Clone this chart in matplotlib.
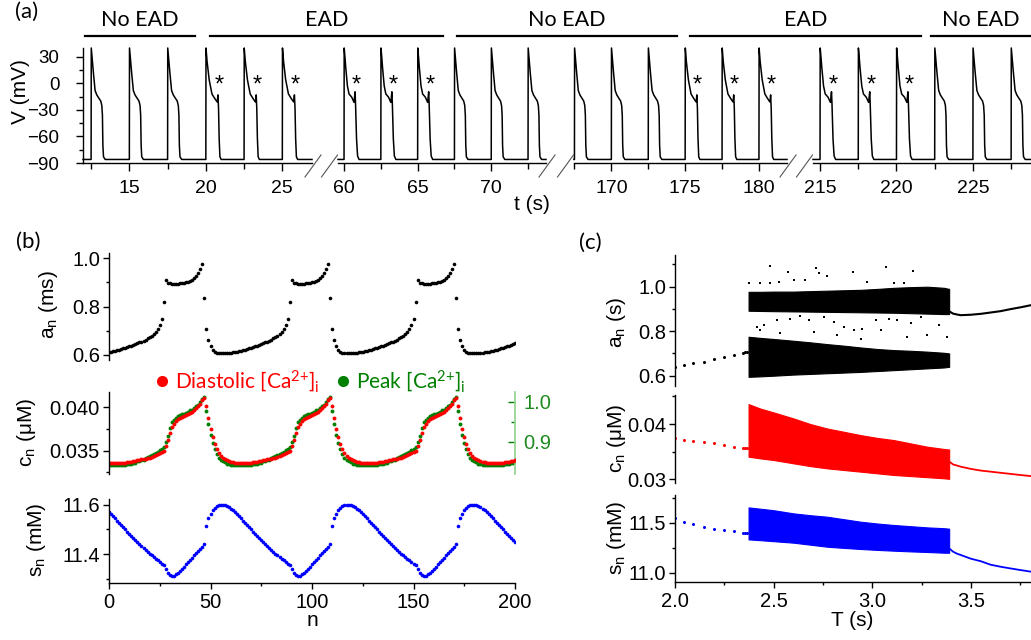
import matplotlib
matplotlib.use("Agg")
import matplotlib.pyplot as plt
from matplotlib.lines import Line2D
from matplotlib.ticker import MultipleLocator, FormatStrFormatter

plt.rcParams['font.family'] = ['Liberation Sans', 'DejaVu Sans']
plt.rcParams['mathtext.default'] = 'regular'
plt.rcParams['axes.linewidth'] = 1.0

W, H = 1031, 640
LABEL_FONT = ['Lato', 'DejaVu Sans']
RED, GREEN, BLUE = '#ff0000', '#008000', '#0000ff'

# ---------------- (a) action potential trains ----------------
rest_v = -86.0
noead_dt = [0, 0.01, 0.15, 0.26, 0.37, 0.48, 0.63, 0.70, 0.74, 0.77, 0.81, 0.92]
noead_v = [-86, 40, 12, -8, -13, -16, -20, -25, -36, -70, -83, -86]
ead1_dt = [0, 0.01, 0.08, 0.22, 0.40, 0.58, 0.70, 0.75, 0.79, 0.83, 0.87, 0.92, 1.00]
ead1_v = [-86, 40, 25, 4, -12, -17, -20, -21, -13, -28, -62, -83, -86]
ead2_dt = [0, 0.01, 0.07, 0.11, 0.23, 0.34, 0.52, 0.68, 0.75, 0.78, 0.85, 0.92, 1.02]
ead2_v = [-86, 40, 28, 19, -3, -12, -15.5, -21.5, -9.5, -22, -63, -82, -86]

seg_tlim = [(11.97, 26.94), (59.59, 73.72), (167.47, 181.9), (214.54, 228.8)]
seg_beats = [[12.5, 15, 17.5, 20, 22.5, 25],
             [60, 62.5, 65, 67.5, 70, 72.5],
             [167.5, 170, 172.5, 175, 177.5, 180],
             [215, 217.5, 220, 222.5, 225, 227.5]]
seg_kinds = [["N", "N", "N", "E1", "E1", "E1"],
             ["E2", "E2", "E2", "N", "N", "N"],
             ["N", "N", "N", "E1", "E1", "E1"],
             ["E2", "E2", "E2", "N", "N", "N"]]
# (first segment, start time, last segment, end time) of each regime bar
regime_labels = ["No EAD", "EAD", "No EAD", "EAD", "No EAD"]
regime_spans = [(0, 12.1, 0, 19.3), (0, 20.3, 1, 66.7), (1, 67.7, 2, 174.45),
                (2, 175.3, 3, 221.6), (3, 222.25, 3, 229.5)]
star_delay = 0.85
star_v = -9.5

# ---------------- (b) beat-to-beat maps over n ----------------
n_beats = list(range(201))
a_n = [
    0.613, 0.614, 0.616, 0.618, 0.620, 0.622, 0.625, 0.628, 0.630, 0.633,
    0.636, 0.639, 0.642, 0.645, 0.648, 0.652, 0.655, 0.659, 0.663, 0.668,
    0.673, 0.679, 0.686, 0.695, 0.706, 0.722, 0.748, 0.821, 0.910, 0.898,
    0.896, 0.895, 0.895, 0.895, 0.895, 0.896, 0.897, 0.898, 0.900, 0.903,
    0.906, 0.911, 0.917, 0.927, 0.940, 0.956, 0.975,
    0.834, 0.708, 0.662, 0.636, 0.620, 0.613, 0.610, 0.608, 0.607, 0.607,
    0.607, 0.608, 0.609, 0.610, 0.611, 0.613, 0.614, 0.616, 0.618, 0.620,
    0.622, 0.625, 0.628, 0.630, 0.633, 0.636, 0.639, 0.642, 0.645, 0.648,
    0.652, 0.655, 0.659, 0.663, 0.668, 0.673, 0.679, 0.686, 0.695, 0.706,
    0.722, 0.748, 0.821, 0.910, 0.898, 0.896, 0.895, 0.895, 0.895, 0.895,
    0.896, 0.897, 0.898, 0.900, 0.903, 0.906, 0.911, 0.917, 0.927, 0.940,
    0.956, 0.975,
    0.834, 0.708, 0.662, 0.636, 0.620, 0.613, 0.610, 0.608, 0.607, 0.607,
    0.607, 0.608, 0.609, 0.610, 0.611, 0.613, 0.614, 0.616, 0.618, 0.620,
    0.622, 0.625, 0.628, 0.630, 0.633, 0.636, 0.639, 0.642, 0.645, 0.648,
    0.652, 0.655, 0.659, 0.663, 0.668, 0.673, 0.679, 0.686, 0.695, 0.706,
    0.722, 0.748, 0.821, 0.910, 0.898, 0.896, 0.895, 0.895, 0.895, 0.895,
    0.896, 0.897, 0.898, 0.900, 0.903, 0.906, 0.911, 0.917, 0.927, 0.940,
    0.956, 0.975,
    0.834, 0.708, 0.662, 0.636, 0.620, 0.613, 0.610, 0.608, 0.607, 0.607,
    0.607, 0.608, 0.609, 0.610, 0.611, 0.613, 0.614, 0.616, 0.618, 0.620,
    0.622, 0.625, 0.628, 0.630, 0.633, 0.636, 0.639, 0.642, 0.645, 0.648,
]
ca_diastolic = [
    0.0336, 0.0336, 0.0336, 0.0336, 0.0336, 0.0336, 0.0336, 0.0336, 0.0336, 0.0337,
    0.0337, 0.0337, 0.0338, 0.0338, 0.0339, 0.0339, 0.0340, 0.0340, 0.0341, 0.0342,
    0.0342, 0.0343, 0.0344, 0.0345, 0.0346, 0.0347, 0.0348, 0.0350, 0.0355, 0.0362,
    0.0370, 0.0377, 0.0381, 0.0384, 0.0386, 0.0388, 0.0389, 0.0390, 0.0391, 0.0392,
    0.0394, 0.0395, 0.0397, 0.0399, 0.0401, 0.0404, 0.0408,
    0.0411, 0.0401, 0.0388, 0.0375, 0.0366, 0.0358, 0.0352, 0.0347, 0.0344, 0.0342,
    0.0340, 0.0339, 0.0338, 0.0337, 0.0337, 0.0336, 0.0336, 0.0336, 0.0336, 0.0336,
    0.0336, 0.0336, 0.0336, 0.0336, 0.0337, 0.0337, 0.0337, 0.0338, 0.0338, 0.0339,
    0.0339, 0.0340, 0.0340, 0.0341, 0.0342, 0.0342, 0.0343, 0.0344, 0.0345, 0.0346,
    0.0347, 0.0348, 0.0350, 0.0355, 0.0362, 0.0370, 0.0377, 0.0381, 0.0384, 0.0386,
    0.0388, 0.0389, 0.0390, 0.0391, 0.0392, 0.0394, 0.0395, 0.0397, 0.0399, 0.0401,
    0.0404, 0.0408,
    0.0411, 0.0401, 0.0388, 0.0375, 0.0366, 0.0358, 0.0352, 0.0347, 0.0344, 0.0342,
    0.0340, 0.0339, 0.0338, 0.0337, 0.0337, 0.0336, 0.0336, 0.0336, 0.0336, 0.0336,
    0.0336, 0.0336, 0.0336, 0.0336, 0.0337, 0.0337, 0.0337, 0.0338, 0.0338, 0.0339,
    0.0339, 0.0340, 0.0340, 0.0341, 0.0342, 0.0342, 0.0343, 0.0344, 0.0345, 0.0346,
    0.0347, 0.0348, 0.0350, 0.0355, 0.0362, 0.0370, 0.0377, 0.0381, 0.0384, 0.0386,
    0.0388, 0.0389, 0.0390, 0.0391, 0.0392, 0.0394, 0.0395, 0.0397, 0.0399, 0.0401,
    0.0404, 0.0408,
    0.0411, 0.0401, 0.0388, 0.0375, 0.0366, 0.0358, 0.0352, 0.0347, 0.0344, 0.0342,
    0.0340, 0.0339, 0.0338, 0.0337, 0.0337, 0.0336, 0.0336, 0.0336, 0.0336, 0.0336,
    0.0336, 0.0336, 0.0336, 0.0336, 0.0337, 0.0337, 0.0337, 0.0338, 0.0338, 0.0339,
]
ca_peak = [
    0.841, 0.841, 0.841, 0.841, 0.841, 0.841, 0.841, 0.841, 0.841, 0.844,
    0.844, 0.844, 0.847, 0.847, 0.851, 0.851, 0.855, 0.855, 0.858, 0.862,
    0.863, 0.866, 0.869, 0.872, 0.875, 0.878, 0.881, 0.886, 0.898, 0.915,
    0.933, 0.948, 0.955, 0.960, 0.963, 0.967, 0.969, 0.970, 0.972, 0.974,
    0.978, 0.980, 0.984, 0.988, 0.992, 0.998, 1.006,
    1.011, 0.976, 0.943, 0.917, 0.897, 0.882, 0.870, 0.860, 0.855, 0.851,
    0.848, 0.845, 0.843, 0.842, 0.842, 0.841, 0.841, 0.841, 0.841, 0.841,
    0.841, 0.841, 0.841, 0.841, 0.844, 0.844, 0.844, 0.847, 0.847, 0.851,
    0.851, 0.855, 0.855, 0.858, 0.862, 0.863, 0.866, 0.869, 0.872, 0.875,
    0.878, 0.881, 0.886, 0.898, 0.915, 0.933, 0.948, 0.955, 0.960, 0.963,
    0.967, 0.969, 0.970, 0.972, 0.974, 0.978, 0.980, 0.984, 0.988, 0.992,
    0.998, 1.006,
    1.011, 0.976, 0.943, 0.917, 0.897, 0.882, 0.870, 0.860, 0.855, 0.851,
    0.848, 0.845, 0.843, 0.842, 0.842, 0.841, 0.841, 0.841, 0.841, 0.841,
    0.841, 0.841, 0.841, 0.841, 0.844, 0.844, 0.844, 0.847, 0.847, 0.851,
    0.851, 0.855, 0.855, 0.858, 0.862, 0.863, 0.866, 0.869, 0.872, 0.875,
    0.878, 0.881, 0.886, 0.898, 0.915, 0.933, 0.948, 0.955, 0.960, 0.963,
    0.967, 0.969, 0.970, 0.972, 0.974, 0.978, 0.980, 0.984, 0.988, 0.992,
    0.998, 1.006,
    1.011, 0.976, 0.943, 0.917, 0.897, 0.882, 0.870, 0.860, 0.855, 0.851,
    0.848, 0.845, 0.843, 0.842, 0.842, 0.841, 0.841, 0.841, 0.841, 0.841,
    0.841, 0.841, 0.841, 0.841, 0.844, 0.844, 0.844, 0.847, 0.847, 0.851,
]
s_n = [
    11.572, 11.563, 11.554, 11.545, 11.536, 11.527, 11.518, 11.509, 11.500, 11.491,
    11.482, 11.473, 11.465, 11.457, 11.449, 11.441, 11.433, 11.425, 11.417, 11.409,
    11.402, 11.395, 11.388, 11.381, 11.374, 11.367, 11.361, 11.354, 11.337, 11.322,
    11.313, 11.310, 11.312, 11.317, 11.324, 11.332, 11.340, 11.349, 11.358, 11.367,
    11.376, 11.385, 11.394, 11.403, 11.412, 11.420, 11.430,
    11.440, 11.515, 11.545, 11.565, 11.578, 11.588, 11.594, 11.598, 11.600, 11.600,
    11.598, 11.595, 11.590, 11.585, 11.579, 11.572, 11.563, 11.554, 11.545, 11.536,
    11.527, 11.518, 11.509, 11.500, 11.491, 11.482, 11.473, 11.465, 11.457, 11.449,
    11.441, 11.433, 11.425, 11.417, 11.409, 11.402, 11.395, 11.388, 11.381, 11.374,
    11.367, 11.361, 11.354, 11.337, 11.322, 11.313, 11.310, 11.312, 11.317, 11.324,
    11.332, 11.340, 11.349, 11.358, 11.367, 11.376, 11.385, 11.394, 11.403, 11.412,
    11.420, 11.430,
    11.440, 11.515, 11.545, 11.565, 11.578, 11.588, 11.594, 11.598, 11.600, 11.600,
    11.598, 11.595, 11.590, 11.585, 11.579, 11.572, 11.563, 11.554, 11.545, 11.536,
    11.527, 11.518, 11.509, 11.500, 11.491, 11.482, 11.473, 11.465, 11.457, 11.449,
    11.441, 11.433, 11.425, 11.417, 11.409, 11.402, 11.395, 11.388, 11.381, 11.374,
    11.367, 11.361, 11.354, 11.337, 11.322, 11.313, 11.310, 11.312, 11.317, 11.324,
    11.332, 11.340, 11.349, 11.358, 11.367, 11.376, 11.385, 11.394, 11.403, 11.412,
    11.420, 11.430,
    11.440, 11.515, 11.545, 11.565, 11.578, 11.588, 11.594, 11.598, 11.600, 11.600,
    11.598, 11.595, 11.590, 11.585, 11.579, 11.572, 11.563, 11.554, 11.545, 11.536,
    11.527, 11.518, 11.509, 11.500, 11.491, 11.482, 11.473, 11.465, 11.457, 11.449,
]

# ---------------- (c) bifurcation diagrams over pacing period T ----------------
T_pre = [2.0, 2.046, 2.093, 2.147, 2.198, 2.246, 2.297, 2.344, 2.356, 2.366]
a_pre = [0.640, 0.647, 0.655, 0.662, 0.674, 0.685, 0.692, 0.703, 0.705, 0.707]
c_pre = [0.0375, 0.0372, 0.0370, 0.0367, 0.0365, 0.0362, 0.0359, 0.0357, 0.0356, 0.0356]
s_pre = [11.543, 11.510, 11.487, 11.460, 11.440, 11.427, 11.413, 11.400, 11.400, 11.399]

T_band = [2.373, 2.432, 2.5, 2.602, 2.686, 2.771, 2.856, 2.941, 3.025, 3.110,
          3.195, 3.280, 3.364, 3.39]
a_upper_top = [0.977, 0.977, 0.978, 0.978, 0.980, 0.982, 0.984, 0.986, 0.990, 0.995,
               0.998, 1.000, 0.995, 0.990]
a_upper_bot = [0.892, 0.891, 0.890, 0.889, 0.888, 0.887, 0.886, 0.885, 0.884, 0.883,
               0.881, 0.879, 0.877, 0.877]
a_lower_top = [0.775, 0.770, 0.765, 0.757, 0.750, 0.742, 0.735, 0.727, 0.720, 0.715,
               0.712, 0.708, 0.703, 0.700]
a_lower_bot = [0.595, 0.597, 0.600, 0.605, 0.608, 0.611, 0.614, 0.617, 0.621, 0.625,
               0.629, 0.633, 0.637, 0.640]
c_band_top = [0.0436, 0.0428, 0.0421, 0.0410, 0.0400, 0.0392, 0.0386, 0.0380, 0.0375,
              0.0371, 0.0365, 0.0359, 0.0355, 0.0354]
c_band_bot = [0.0341, 0.0338, 0.0335, 0.0329, 0.0324, 0.0320, 0.0317, 0.0314, 0.0311,
              0.0308, 0.0306, 0.0304, 0.0302, 0.0301]
s_band_top = [11.653, 11.640, 11.625, 11.593, 11.575, 11.560, 11.535, 11.510, 11.492,
              11.477, 11.465, 11.453, 11.445, 11.440]
s_band_bot = [11.333, 11.325, 11.315, 11.300, 11.280, 11.260, 11.248, 11.237, 11.228,
              11.220, 11.213, 11.207, 11.200, 11.200]

T_scatter = [2.373, 2.429, 2.480, 2.483, 2.525, 2.571, 2.602, 2.661, 2.717, 2.729,
             2.771, 2.902, 2.975, 3.068, 3.110, 3.161, 3.208,
             2.415, 2.432, 2.449, 2.517, 2.534, 2.581, 2.636, 2.678, 2.703, 2.754,
             2.808, 2.822, 2.856, 2.907, 2.941, 2.949, 3.017, 3.042, 3.085, 3.127,
             3.178, 3.195, 3.246, 3.280, 3.339, 3.381]
a_scatter = [1.018, 1.015, 1.093, 1.015, 1.020, 1.068, 1.030, 1.030, 1.083, 1.060,
             1.048, 1.068, 1.023, 1.087, 1.018, 1.018, 1.072,
             0.820, 0.805, 0.827, 0.850, 0.790, 0.857, 0.868, 0.850, 0.797, 0.862,
             0.842, 0.782, 0.820, 0.805, 0.767, 0.812, 0.850, 0.805, 0.853, 0.850,
             0.775, 0.835, 0.865, 0.782, 0.830, 0.775]

T_post = [3.395, 3.41, 3.43, 3.449, 3.5, 3.55, 3.6, 3.65, 3.7, 3.75, 3.805]
a_post = [0.887, 0.879, 0.875, 0.872, 0.874, 0.878, 0.884, 0.890, 0.899, 0.907, 0.917]
c_post = [0.0331, 0.0327, 0.0325, 0.0323, 0.0319, 0.0316, 0.0314, 0.0312, 0.0310,
          0.0308, 0.0306]
s_post = [11.235, 11.210, 11.190, 11.177, 11.140, 11.115, 11.080, 11.060, 11.043,
          11.027, 11.010]

# =====================================================================
fig = plt.figure(figsize=(W / 100, H / 100), dpi=100)


def px_axes(x0, y0, x1, y1):
    """Axes from a pixel box (y measured from the top edge)."""
    ax = fig.add_axes([x0 / W, 1 - y1 / H, (x1 - x0) / W, (y1 - y0) / H])
    ax.patch.set_alpha(0)
    return ax


def fig_xy(x, y):
    return x / W, 1 - y / H


def style(ax, bottom, labelsize=14.5):
    for side in ('top', 'right'):
        ax.spines[side].set_visible(False)
    ax.spines['bottom'].set_visible(bottom)
    ax.tick_params(which='both', direction='out', width=1)
    ax.tick_params(which='major', length=4.5, labelsize=labelsize, pad=2)
    ax.tick_params(which='minor', length=2.5)
    ax.tick_params(axis='x', which='both', bottom=bottom, labelbottom=bottom)


# ---------------- panel (a) ----------------
templates = {"N": (noead_dt, noead_v), "E1": (ead1_dt, ead1_v), "E2": (ead2_dt, ead2_v)}
seg_px = [(83, 312), (338, 546), (574, 787), (813, 1031)]
A_TOP, A_BOT = 48, 163
seg_axes = []
for i, ((x0, x1), (t0, t1), beats, kinds) in enumerate(
        zip(seg_px, seg_tlim, seg_beats, seg_kinds)):
    ax = px_axes(x0, A_TOP, x1, A_BOT)
    t, v = [t0], [rest_v]
    for b, k in zip(beats, kinds):
        dts, vs = templates[k]
        t += [b + d for d in dts]
        v += list(vs)
    t.append(t1)
    v.append(rest_v)
    ax.plot(t, v, color='black', lw=1.1, clip_on=False, solid_joinstyle='round')
    for b, k in zip(beats, kinds):
        if k != "N":
            ax.text(b + star_delay, star_v, '*', ha='center', va='baseline',
                    fontsize=17)
    ax.set_xlim(t0, t1)
    ax.set_ylim(-90, 40)
    style(ax, True, labelsize=14)
    ax.xaxis.set_major_locator(MultipleLocator(5))
    ax.xaxis.set_minor_locator(MultipleLocator(2.5))
    ax.tick_params(axis='x', which='major', length=6, pad=6)
    ax.tick_params(axis='x', which='minor', length=4)
    if i == 0:
        ax.yaxis.set_major_locator(MultipleLocator(30))
        ax.yaxis.set_minor_locator(MultipleLocator(15))
        ax.tick_params(axis='y', which='major', length=5, pad=12, labelsize=13.5)
        ax.tick_params(axis='y', which='minor', length=3)
    else:
        ax.spines['left'].set_visible(False)
        ax.tick_params(axis='y', which='both', left=False, labelleft=False)
    seg_axes.append(ax)

fig.canvas.draw()
to_fig = fig.transFigure.inverted()


def seg_fx(seg, t):
    disp = seg_axes[seg].transData.transform((t, 0))
    return to_fig.transform(disp)[0]


bar_y = 1 - 36 / H
for label, (s0, ta, s1, tb) in zip(regime_labels, regime_spans):
    xa, xb = seg_fx(s0, ta), min(seg_fx(s1, tb), 1.0)
    fig.add_artist(Line2D([xa, xb], [bar_y, bar_y], color='black', lw=1.6,
                          transform=fig.transFigure))
    fig.text((xa + xb) / 2, 1 - 20 / H, label, ha='center', va='center',
             fontsize=15.5, family=LABEL_FONT)

# broken-axis marks between the segments
for (_, xr), (xl, _) in zip(seg_px[:-1], seg_px[1:]):
    for xm in (xr + 1, xl - 8.5):
        (fa, fb), (ga, gb) = fig_xy(xm - 8, 177), fig_xy(xm + 8, 155)
        fig.add_artist(Line2D([fa, ga], [fb, gb], color='#555555', lw=0.8,
                              transform=fig.transFigure))

fig.text(*fig_xy(21, 92), 'V (mV)', rotation=90, ha='center', va='center', fontsize=15)
fig.text(*fig_xy(532, 204), 't (s)', ha='center', va='center', fontsize=15)
fig.text(*fig_xy(27, 12), '(a)', ha='center', va='center', fontsize=16, family=LABEL_FONT)

# ---------------- panel (b) ----------------
BX0, BX1 = 109, 515
ax_ba = px_axes(BX0, 252.7, BX1, 360)
ax_bc = px_axes(BX0, 391.7, BX1, 474)
ax_bs = px_axes(BX0, 499.3, BX1, 582.7)
ax_bc2 = ax_bc.twinx()
ax_bc2.patch.set_alpha(0)

ax_ba.plot(n_beats, a_n, 'o', color='black', ms=2.6, mew=0)
ax_bc2.plot(n_beats, ca_peak, 'o', color=GREEN, ms=2.8, mew=0)
ax_bc.plot(n_beats, ca_diastolic, 'o', color=RED, ms=2.8, mew=0)
ax_bs.plot(n_beats, s_n, 'o', color=BLUE, ms=2.6, mew=0)
ax_bc.set_zorder(ax_bc2.get_zorder() + 1)

for ax in (ax_ba, ax_bc, ax_bs):
    ax.set_xlim(0, 200)
    style(ax, ax is ax_bs)
ax_ba.set_ylim(0.579, 1.023)
ax_ba.yaxis.set_major_locator(MultipleLocator(0.2))
ax_ba.yaxis.set_minor_locator(MultipleLocator(0.1))
ax_ba.yaxis.set_major_formatter(FormatStrFormatter('%.1f'))
ax_bc.set_ylim(0.03232, 0.0418)
ax_bc.yaxis.set_major_locator(MultipleLocator(0.005))
ax_bc.yaxis.set_minor_locator(MultipleLocator(0.0025))
ax_bc.yaxis.set_major_formatter(FormatStrFormatter('%.3f'))
ax_bs.set_ylim(11.283, 11.623)
ax_bs.yaxis.set_major_locator(MultipleLocator(0.2))
ax_bs.yaxis.set_minor_locator(MultipleLocator(0.1))
ax_bs.yaxis.set_major_formatter(FormatStrFormatter('%.1f'))
ax_bs.xaxis.set_major_locator(MultipleLocator(50))
ax_bs.xaxis.set_minor_locator(MultipleLocator(25))
ax_bs.tick_params(axis='x', which='major', pad=3)

ax_bc2.set_ylim(0.819, 1.025)
for side in ('top', 'left', 'bottom'):
    ax_bc2.spines[side].set_visible(False)
ax_bc2.spines['right'].set_color('#8fd18f')
ax_bc2.spines['right'].set_linewidth(1.2)
ax_bc2.yaxis.set_major_locator(MultipleLocator(0.1))
ax_bc2.yaxis.set_minor_locator(MultipleLocator(0.05))
ax_bc2.yaxis.set_major_formatter(FormatStrFormatter('%.1f'))
ax_bc2.tick_params(axis='y', which='both', direction='in', color=GREEN, width=1,
                   labelcolor='#1f8b1f', labelsize=14.5, pad=6)
ax_bc2.tick_params(axis='y', which='major', length=5)
ax_bc2.tick_params(axis='y', which='minor', length=3)
ax_bc2.tick_params(axis='x', bottom=False, labelbottom=False)

fig.text(*fig_xy(49, 305), 'a$_n$ (ms)', rotation=90, ha='center', va='center', fontsize=15)
fig.text(*fig_xy(27, 432), 'c$_n$ (μM)', rotation=90, ha='center', va='center', fontsize=15)
fig.text(*fig_xy(36, 540), 's$_n$ (mM)', rotation=90, ha='center', va='center', fontsize=15)
fig.text(*fig_xy((BX0 + BX1) / 2, 621), 'n', ha='center', va='center', fontsize=15)
fig.text(*fig_xy(28, 242), '(b)', ha='center', va='center', fontsize=16, family=LABEL_FONT)

for (dx, tx, col, txt) in [(162, 175, RED, 'Diastolic [Ca$^{2{+}}$]$_i$'),
                           (343, 356, GREEN, 'Peak [Ca$^{2{+}}$]$_i$')]:
    fx, fy = fig_xy(dx, 381)
    fig.add_artist(Line2D([fx], [fy], marker='o', ms=8, color=col, mew=0,
                          transform=fig.transFigure))
    fig.text(*fig_xy(tx, 381), txt, ha='left', va='center', fontsize=15,
             color=col, family=LABEL_FONT)

# ---------------- panel (c) ----------------
CX0, CX1 = 675, 1031
ax_ca = px_axes(CX0, 255, CX1, 386)
ax_cc = px_axes(CX0, 395, CX1, 483.3)
ax_cs = px_axes(CX0, 495, CX1, 581.7)

ax_ca.plot(T_pre, a_pre, 'o', color='black', ms=2.2, mew=0)
ax_ca.fill_between(T_band, a_upper_bot, a_upper_top, color='black', lw=0.8)
ax_ca.fill_between(T_band, a_lower_bot, a_lower_top, color='black', lw=0.8)
ax_ca.plot(T_scatter, a_scatter, 's', color='black', ms=2.0, mew=0)
ax_ca.plot(T_post, a_post, '-', color='black', lw=1.5)

ax_cc.plot(T_pre, c_pre, 'o', color=RED, ms=2.2, mew=0)
ax_cc.fill_between(T_band, c_band_bot, c_band_top, color=RED, lw=0.8)
ax_cc.plot(T_post, c_post, '-', color=RED, lw=1.3)

ax_cs.plot(T_pre, s_pre, 'o', color=BLUE, ms=2.2, mew=0)
ax_cs.fill_between(T_band, s_band_bot, s_band_top, color=BLUE, lw=0.8)
ax_cs.plot(T_post, s_post, '-', color=BLUE, lw=1.3)

for ax in (ax_ca, ax_cc, ax_cs):
    ax.set_xlim(2.0, 3.805)
    style(ax, ax is ax_cs)
ax_ca.set_ylim(0.5537, 1.1425)
ax_ca.yaxis.set_major_locator(MultipleLocator(0.2))
ax_ca.yaxis.set_minor_locator(MultipleLocator(0.1))
ax_ca.yaxis.set_major_formatter(FormatStrFormatter('%.1f'))
ax_cc.set_ylim(0.0293, 0.04524)
ax_cc.yaxis.set_major_locator(MultipleLocator(0.01))
ax_cc.yaxis.set_minor_locator(MultipleLocator(0.005))
ax_cc.yaxis.set_major_formatter(FormatStrFormatter('%.2f'))
ax_cs.set_ylim(10.91, 11.777)
ax_cs.yaxis.set_major_locator(MultipleLocator(0.5))
ax_cs.yaxis.set_minor_locator(MultipleLocator(0.25))
ax_cs.yaxis.set_major_formatter(FormatStrFormatter('%.1f'))
ax_cs.xaxis.set_major_locator(MultipleLocator(0.5))
ax_cs.xaxis.set_minor_locator(MultipleLocator(0.25))
ax_cs.xaxis.set_major_formatter(FormatStrFormatter('%.1f'))
ax_cs.tick_params(axis='x', which='major', pad=3)

fig.text(*fig_xy(617, 322), 'a$_n$ (s)', rotation=90, ha='center', va='center', fontsize=15)
fig.text(*fig_xy(617, 438), 'c$_n$ (μM)', rotation=90, ha='center', va='center', fontsize=15)
fig.text(*fig_xy(617, 538), 's$_n$ (mM)', rotation=90, ha='center', va='center', fontsize=15)
fig.text(*fig_xy(852, 621), 'T (s)', ha='center', va='center', fontsize=15)
fig.text(*fig_xy(590, 243), '(c)', ha='center', va='center', fontsize=16, family=LABEL_FONT)

fig.savefig('out.png', dpi=100)
